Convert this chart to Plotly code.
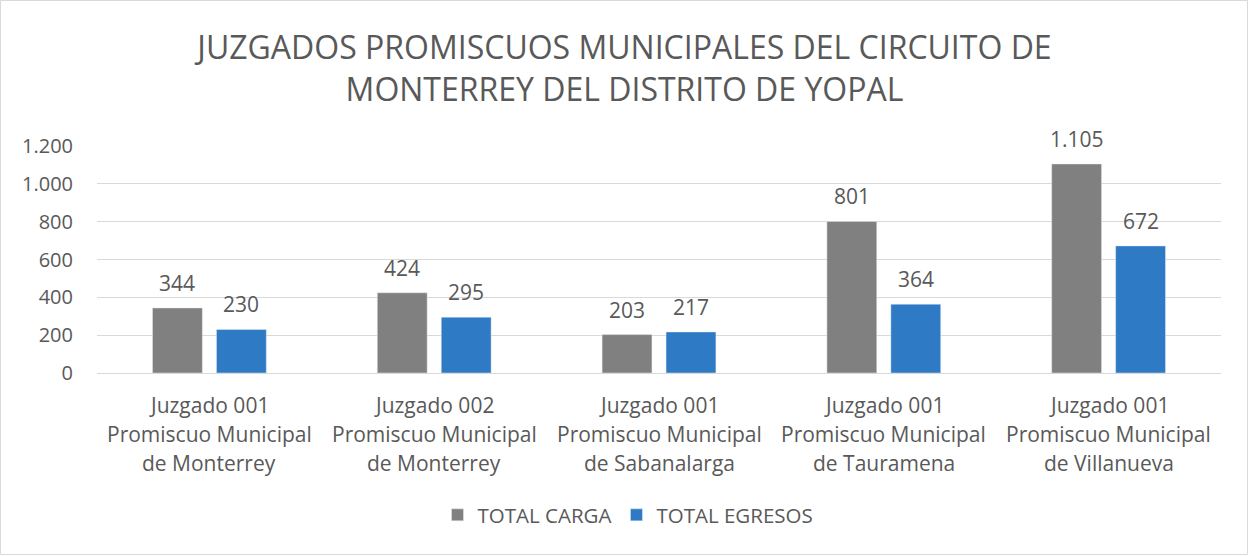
import plotly.graph_objects as go

# Data
categorias = [
    "Juzgado 001<br>Promiscuo Municipal<br>de Monterrey",
    "Juzgado 002<br>Promiscuo Municipal<br>de Monterrey",
    "Juzgado 001<br>Promiscuo Municipal<br>de Sabanalarga",
    "Juzgado 001<br>Promiscuo Municipal<br>de Tauramena",
    "Juzgado 001<br>Promiscuo Municipal<br>de Villanueva",
]
total_carga = [344, 424, 203, 801, 1105]
total_egresos = [230, 295, 217, 364, 672]
y_ticks = [0, 200, 400, 600, 800, 1000, 1200]

FONT = "Open Sans, sans-serif"
TXT = "#595959"
GRAY = "#808080"
BLUE = "#2E7AC4"

W, H = 1249, 556
ML, MR, MT, MB = 97, 28, 146, 183

fig = go.Figure()
fig.add_trace(go.Bar(x=categorias, y=total_carga, name="TOTAL CARGA",
                     marker=dict(color=GRAY)))
fig.add_trace(go.Bar(x=categorias, y=total_egresos, name="TOTAL EGRESOS",
                     marker=dict(color=BLUE)))

# value labels above each bar
slot = (1 - 0.431) * (W - ML - MR) / len(categorias) / 2
for serie, dx in ((total_carga, -slot / 2), (total_egresos, slot / 2)):
    for c, v in zip(categorias, serie):
        fig.add_annotation(x=c, y=v, text=f"{v:,}".replace(",", "."),
                           showarrow=False, xshift=dx, yshift=25,
                           yanchor="middle",
                           font=dict(family=FONT, size=21, color=TXT))

# category labels, one annotation per line for wider line spacing
for c in categorias:
    for i, linea in enumerate(c.split("<br>")):
        fig.add_annotation(x=c, y=0, text=linea, showarrow=False,
                           yshift=-(32 + 29 * i), yanchor="middle",
                           font=dict(family=FONT, size=21, color=TXT))

pw, ph = W - ML - MR, H - MT - MB
fig.add_shape(type="rect", xref="paper", yref="paper",
              x0=(-ML + 0.5) / pw, x1=(pw + MR - 1.5) / pw,
              y0=(-MB + 1.5) / ph, y1=(ph + MT - 0.5) / ph,
              line=dict(color="#D9D9D9", width=1), layer="below")

fig.update_layout(
    width=W, height=H,
    margin=dict(l=ML, r=MR, t=MT, b=MB),
    paper_bgcolor="white", plot_bgcolor="white",
    separators=",.",
    barmode="group", bargap=0.431, bargroupgap=0.22,
    title=dict(text="JUZGADOS PROMISCUOS MUNICIPALES DEL CIRCUITO DE<br>MONTERREY DEL DISTRITO DE YOPAL",
               x=0.5, xanchor="center", xref="container",
               y=1 - 59 / H, yanchor="middle", yref="container",
               font=dict(family=FONT, size=32, color=TXT)),
    font=dict(family=FONT, color=TXT),
    showlegend=True,
    legend=dict(orientation="h", x=(628 - ML) / pw, xanchor="center",
                y=-(515 - (H - MB)) / ph, yanchor="middle",
                font=dict(family=FONT, size=20.5, color=TXT),
                itemwidth=30, traceorder="normal"),
    xaxis=dict(showgrid=False, showline=True, linecolor="#D9D9D9", linewidth=1,
               ticks="", showticklabels=False),
    yaxis=dict(range=[0, 1200], tickvals=y_ticks, tickformat=",d",
               showgrid=True, gridcolor="#D9D9D9", gridwidth=1,
               zeroline=False, showline=False, ticks="",
               tickfont=dict(family=FONT, size=20, color=TXT),
               ticklabelstandoff=23),
)

fig.write_html("out.html")
